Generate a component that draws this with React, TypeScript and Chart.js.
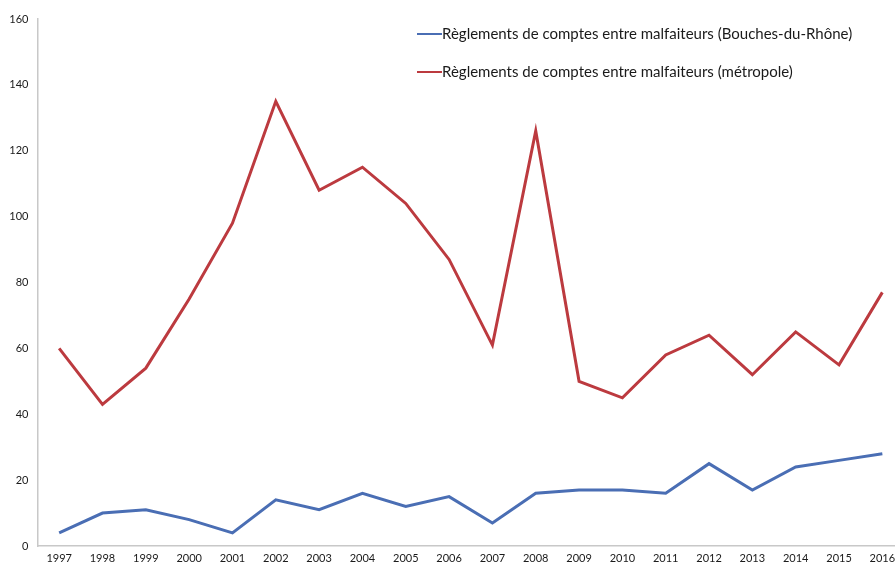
import React, { useEffect, useRef } from "react";
import { Chart, registerables } from "chart.js";

Chart.register(...registerables);

const years = ["1997","1998","1999","2000","2001","2002","2003","2004","2005","2006","2007","2008","2009","2010","2011","2012","2013","2014","2015","2016"];
const bouchesDuRhone = [4, 10, 11, 8, 4, 14, 11, 16, 12, 15, 7, 16, 17, 17, 16, 25, 17, 24, 26, 28];
const metropole = [60, 43, 54, 75, 98, 135, 108, 115, 104, 87, 61, 126, 50, 45, 58, 64, 52, 65, 55, 77];
const seriesLabels = [
  "Règlements de comptes entre malfaiteurs (Bouches-du-Rhône)",
  "Règlements de comptes entre malfaiteurs (métropole)",
];
const FONT = "Lato, 'Open Sans', sans-serif";

const legendPlugin = {
  id: "customLegend",
  afterDraw(chart: any) {
    const ctx = chart.ctx;
    ctx.save();
    const x0 = 417;
    const ys = [34, 72];
    chart.data.datasets.forEach((ds: any, i: number) => {
      const y = ys[i];
      ctx.strokeStyle = ds.borderColor;
      ctx.lineWidth = 2;
      ctx.beginPath();
      ctx.moveTo(x0, y);
      ctx.lineTo(x0 + 25, y);
      ctx.stroke();
      ctx.fillStyle = "#1a1a1a";
      ctx.font = `15px ${FONT}`;
      ctx.textBaseline = "middle";
      ctx.textAlign = "left";
      ctx.fillText(ds.label, x0 + 25, y);
    });
    ctx.restore();
  },
};

export default function App() {
  const ref = useRef<HTMLCanvasElement>(null);
  useEffect(() => {
    const chart = new Chart(ref.current!, {
      type: "line",
      data: {
        labels: years,
        datasets: [
          { label: seriesLabels[0], data: bouchesDuRhone, borderColor: "#4A6EB4", backgroundColor: "#4A6EB4", borderWidth: 3, pointRadius: 0, tension: 0 },
          { label: seriesLabels[1], data: metropole, borderColor: "#BC3A3F", backgroundColor: "#BC3A3F", borderWidth: 3, pointRadius: 0, tension: 0 },
        ],
      },
      options: {
        responsive: false,
        animation: false,
        layout: { padding: { top: 19, right: 0, left: 0, bottom: 0 } },
        plugins: { legend: { display: false }, tooltip: { enabled: false } },
        scales: {
          x: {
            offset: true,
            grid: { display: false, drawTicks: false },
            border: { display: true, color: "#c8c8c8", width: 1.5 },
            ticks: { color: "#1a1a1a", font: { family: FONT, size: 11 }, padding: 6, maxRotation: 0, autoSkip: false },
            afterFit: (s: any) => { s.height = 20; },
          },
          y: {
            min: 0,
            max: 160,
            grid: { display: false, drawTicks: false },
            border: { display: true, color: "#c8c8c8", width: 1.5 },
            ticks: { stepSize: 20, color: "#1a1a1a", font: { family: FONT, size: 11 }, padding: 9 },
            afterFit: (s: any) => { s.width = 37.5; },
          },
        },
      },
      plugins: [legendPlugin],
    });
    return () => chart.destroy();
  }, []);
  return (
    <div style={{ position: "fixed", left: 0, top: 0, width: 895, height: 566, overflow: "hidden", background: "#fff" }}>
      <canvas ref={ref} width={904} height={566} style={{ display: "block" }} />
    </div>
  );
}
